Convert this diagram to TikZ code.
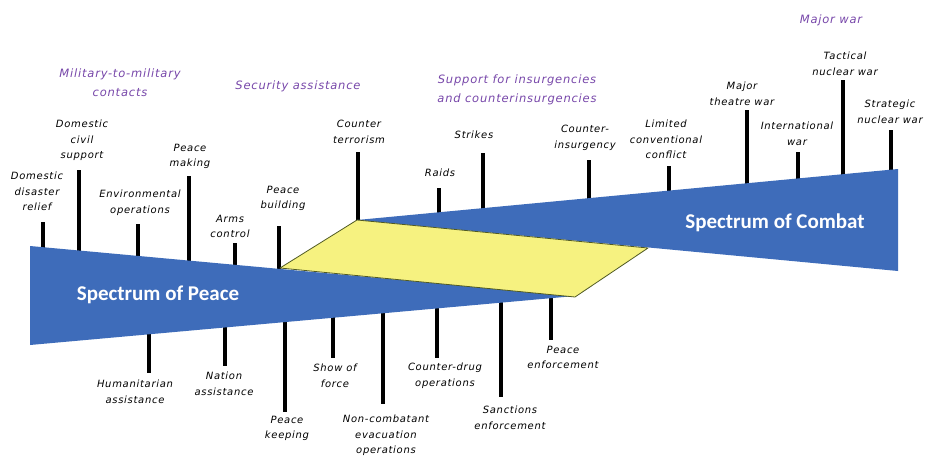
\documentclass[tikz,border=0pt]{standalone}
\usepackage{fontspec}
\newfontfamily\labfont[LetterSpace=7]{DejaVu Sans}
\newfontfamily\spfont{Carlito}
\definecolor{wedgeblue}{RGB}{62,108,186}
\definecolor{paleyellow}{RGB}{246,242,128}
\definecolor{olive}{RGB}{80,90,35}
\definecolor{headpurple}{RGB}{120,72,170}
\begin{document}
\begin{tikzpicture}[x=1pt,y=-1pt,
  lab/.style={font=\labfont\itshape\fontsize{10}{15.5}\selectfont, align=center, anchor=north, inner sep=0pt},
  head/.style={font=\labfont\itshape\fontsize{11.5}{19}\selectfont, text=headpurple, align=center, anchor=north, inner sep=0pt},
  tick/.style={line width=3.3pt, black},
  spec/.style={font=\spfont\bfseries\fontsize{21}{25}\selectfont, text=white, anchor=base, inner sep=0pt}]
\useasboundingbox[fill=white] (0,0) rectangle (927,459);

% headings
\node[head] (h1) at (120,68.5) {Military-to-military\\contacts};
\node[head] (h2) at (298,80.5) {Security assistance};
\node[head] (h3) at (517,74.5) {Support for insurgencies\\and counterinsurgencies};
\node[head] (h4) at (831,14.5) {Major war};

% top ticks
\coordinate (a1) at (43,222);  \coordinate (b1) at (43,250);
\coordinate (a2) at (79,170);  \coordinate (b2) at (79,253);
\coordinate (a3) at (138,224); \coordinate (b3) at (138,258);
\coordinate (a4) at (189,176); \coordinate (b4) at (189,263);
\coordinate (a5) at (235,243); \coordinate (b5) at (235,267);
\coordinate (a6) at (279,226); \coordinate (b6) at (279,269);
\coordinate (a7) at (358,152); \coordinate (b7) at (358,222);
\coordinate (a8) at (439,188); \coordinate (b8) at (439,215);
\coordinate (a9) at (483,153); \coordinate (b9) at (483,211);
\coordinate (a10) at (589,160); \coordinate (b10) at (589,201);
\coordinate (a11) at (669,166); \coordinate (b11) at (669,193);
\coordinate (a12) at (747,110); \coordinate (b12) at (747,186);
\coordinate (a13) at (798,152); \coordinate (b13) at (798,181);
\coordinate (a14) at (843,80);  \coordinate (b14) at (843,177);
\coordinate (a15) at (891,130); \coordinate (b15) at (891,172);
% bottom ticks
\coordinate (a16) at (149,331); \coordinate (b16) at (149,373);
\coordinate (a17) at (225,325); \coordinate (b17) at (225,366);
\coordinate (a18) at (285,319); \coordinate (b18) at (285,412);
\coordinate (a19) at (333,315); \coordinate (b19) at (333,358);
\coordinate (a20) at (383,311); \coordinate (b20) at (383,404);
\coordinate (a21) at (437,306); \coordinate (b21) at (437,358);
\coordinate (a22) at (501,300); \coordinate (b22) at (501,397);
\coordinate (a23) at (551,296); \coordinate (b23) at (551,340);
\foreach \i in {1,...,23} {\draw[tick] (a\i) -- (b\i);}

% wedges
\coordinate (ctip) at (357,220);
\coordinate (ctop) at (898,169);
\coordinate (cbot) at (898,271);
\fill[wedgeblue] (ctip) -- (ctop) -- (cbot) -- cycle;
\coordinate (ptop) at (30,246);
\coordinate (pbot) at (30,345);
\coordinate (ptip) at (575,296);
\fill[wedgeblue] (ptop) -- (ptip) -- (pbot) -- cycle;
\coordinate (y1) at (280,268);
\coordinate (y2) at (357,220);
\coordinate (y3) at (648,248);
\coordinate (y4) at (575,297);
\filldraw[fill=paleyellow, draw=olive, line width=0.8pt, line join=round] (y1) -- (y2) -- (y3) -- (y4) -- cycle;

\node[spec] (peace) at (158,300) {Spectrum of Peace};
\node[spec] (combat) at (775,228) {Spectrum of Combat};

% top labels
\node[lab] (l1) at (37,172) {Domestic\\disaster\\relief};
\node[lab] (l2) at (82,120) {Domestic\\civil\\support};
\node[lab] (l3) at (140,190) {Environmental\\operations};
\node[lab] (l4) at (190,144) {Peace\\making};
\node[lab] (l5) at (230,215) {Arms\\control};
\node[lab] (l6) at (283,186) {Peace\\building};
\node[lab] (l7) at (359,120) {Counter\\terrorism};
\node[lab] (l8) at (440,169) {Raids};
\node[lab] (l9) at (474,131) {Strikes};
\node[lab] (l10) at (585,125) {Counter-\\insurgency};
\node[lab] (l11) at (666,120) {Limited\\conventional\\conflict};
\node[lab] (l12) at (742,82) {Major\\theatre war};
\node[lab] (l13) at (797,122) {International\\war};
\node[lab] (l14) at (845,52) {Tactical\\nuclear war};
\node[lab] (l15) at (890,100) {Strategic\\nuclear war};
% bottom labels
\node[lab] (l16) at (135,380) {Humanitarian\\assistance};
\node[lab] (l17) at (224,372) {Nation\\assistance};
\node[lab] (l18) at (287,416) {Peace\\keeping};
\node[lab] (l19) at (335,364) {Show of\\force};
\node[lab] (l20) at (386,415) {Non-combatant\\evacuation\\operations};
\node[lab] (l21) at (445,363) {Counter-drug\\operations};
\node[lab] (l22) at (510,406) {Sanctions\\enforcement};
\node[lab] (l23) at (563,346) {Peace\\enforcement};
\end{tikzpicture}
\end{document}
